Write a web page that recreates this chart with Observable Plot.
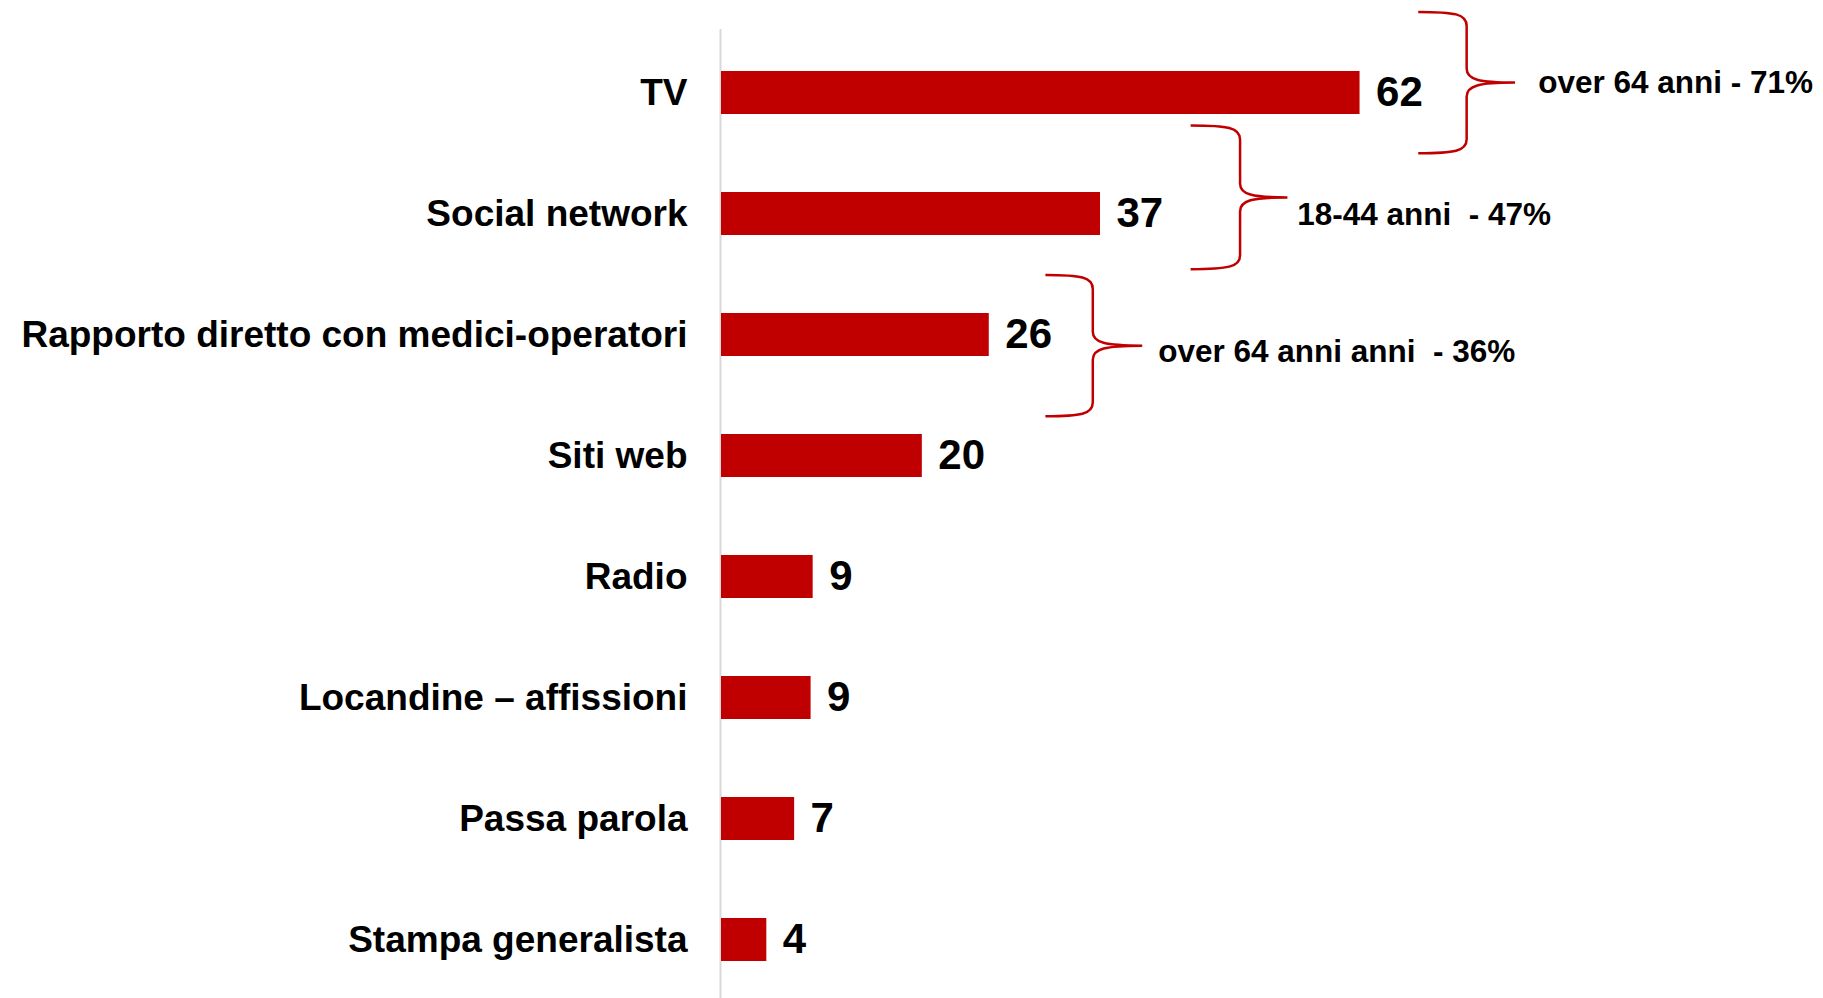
<!DOCTYPE html>
<html>
<head>
<meta charset="utf-8">
<script src="https://cdn.jsdelivr.net/npm/d3@7"></script>
<script src="https://cdn.jsdelivr.net/npm/@observablehq/plot@0.6"></script>
<style>
  html, body { margin: 0; padding: 0; background: #ffffff; }
  svg text { white-space: pre; }
</style>
</head>
<body>
<div id="chart"></div>
<script>
// ---- Data ----
const categories = [
  "TV",
  "Social network",
  "Rapporto diretto con medici-operatori",
  "Siti web",
  "Radio",
  "Locandine – affissioni",
  "Passa parola",
  "Stampa generalista"
];
const values = [62, 36.8, 26, 19.5, 8.9, 8.7, 7.1, 4.4];
const valueLabels = ["62", "37", "26", "20", "9", "9", "7", "4"];

const groupCategories = ["TV", "Social network", "Rapporto diretto con medici-operatori"];
const groupLabels = ["over 64 anni - 71%", "18-44 anni  - 47%", "over 64 anni anni  - 36%"];

// ---- Annotation layout (x in data units, y in band steps from band centre) ----
const braceLayout = [
  {left: 67.7, spine: 72.4, tip: 77.1, text: 79.3, top: -0.666, mid: -0.082, bottom: 0.502, textDy: -10},
  {left: 45.6, spine: 50.4, tip: 55.0, text: 55.9, top: -0.727, mid: -0.133, bottom: 0.460, textDy: 1},
  {left: 31.5, spine: 36.1, tip: 40.9, text: 42.4, top: -0.492, mid: 0.092, bottom: 0.676, textDy: 17}
];

const RED = "#c00000";
const data = categories.map((c, i) => ({category: c, value: values[i], label: valueLabels[i]}));

const annotationTexts = groupCategories.map((c, i) =>
  Plot.text([{category: c, label: groupLabels[i]}], {
    x: () => braceLayout[i].text,
    y: "category",
    text: "label",
    dy: braceLayout[i].textDy,
    textAnchor: "start",
    fontSize: 31.5,
    fontWeight: "bold",
    fill: "black"
  })
);

const chart = Plot.plot({
  width: 1823,
  height: 998,
  marginLeft: 721,
  marginRight: 0,
  marginTop: 29,
  marginBottom: 0,
  style: {fontFamily: "'Liberation Sans', Arial, sans-serif", background: "white", color: "black"},
  x: {domain: [0, 107], axis: null},
  y: {domain: categories, paddingInner: 0.646, paddingOuter: 0.314, align: 0.535, label: null, axis: null},
  marks: [
    Plot.ruleX([0], {stroke: "#d9d9d9", strokeWidth: 2, dx: -1}),
    Plot.barX(data, {x: "value", y: "category", fill: RED}),
    Plot.axisY({tickSize: 0, tickPadding: 34, fontSize: 37, fontWeight: "bold", label: null, fill: "black"}),
    Plot.text(data, {
      x: "value", y: "category", text: "label",
      dx: 16, textAnchor: "start", fontSize: 42, fontWeight: "bold", fill: "black"
    }),
    ...annotationTexts
  ]
});

document.getElementById("chart").appendChild(chart);

// ---- Braces drawn with the chart's own scales ----
const xs = chart.scale("x");
const ys = chart.scale("y");
const step = ys.step ?? (ys.apply(categories[1]) - ys.apply(categories[0]));
const bw = ys.bandwidth ?? step * (1 - 0.646);

function bracePath(xl, xv, xt, yt, ym, yb) {
  const r = 14;
  return `M${xl},${yt} C${xl + (xv - xl) * 0.75},${yt} ${xv},${yt + 2} ${xv},${yt + r}` +
    ` L${xv},${ym - r} C${xv},${ym - 3} ${xv + (xt - xv) * 0.25},${ym} ${xt},${ym}` +
    ` M${xt},${ym} C${xv + (xt - xv) * 0.25},${ym} ${xv},${ym + 3} ${xv},${ym + r}` +
    ` L${xv},${yb - r} C${xv},${yb - 2} ${xl + (xv - xl) * 0.75},${yb} ${xl},${yb}`;
}

const g = d3.select(chart).append("g").attr("fill", "none").attr("stroke", RED).attr("stroke-width", 2.5);
groupCategories.forEach((c, i) => {
  const L = braceLayout[i];
  const center = ys.apply(c) + bw / 2;
  g.append("path").attr("d", bracePath(
    xs.apply(L.left), xs.apply(L.spine), xs.apply(L.tip),
    center + L.top * step, center + L.mid * step, center + L.bottom * step
  ));
});
</script>
</body>
</html>
